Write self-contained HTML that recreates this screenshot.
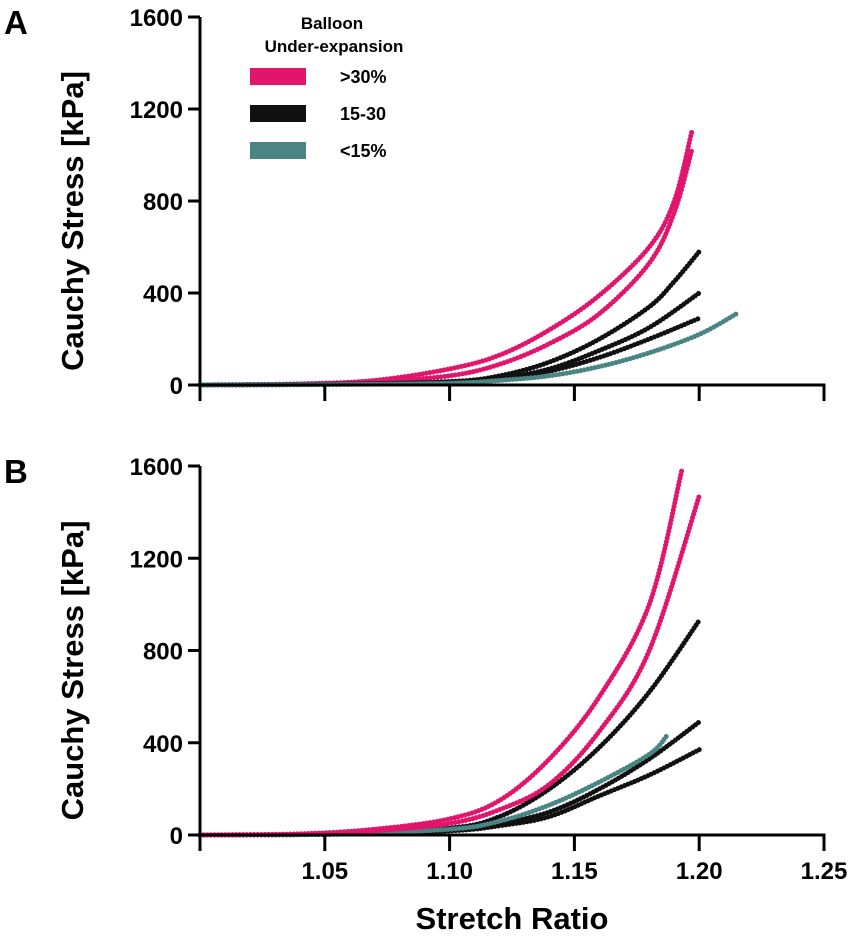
<!DOCTYPE html>
<html><head><meta charset="utf-8"><style>
body{margin:0;background:#fff}
svg{display:block;font-family:"Liberation Sans",sans-serif;font-weight:bold}
</style></head><body>
<svg id="chart" width="857" height="940" viewBox="0 0 857 940" xmlns="http://www.w3.org/2000/svg">
<g id="plot"></g>
</svg>
<script>
const xTicks=[1.00,1.05,1.10,1.15,1.20,1.25];
const xTickLabels=["","1.05","1.10","1.15","1.20","1.25"];
const yTicks=[0,400,800,1200,1600];
const legendLabels=[">30%","15-30","<15%"];
const groupColors={pink:"#e0156b",black:"#111111",teal:"#4a8584"};
// Panel A series
const aPink1X=[1.00,1.04,1.07,1.10,1.12,1.14,1.16,1.18,1.19,1.197];
const aPink1Y=[0,5,20,70,130,240,390,600,800,1100];
const aPink2X=[1.00,1.04,1.07,1.10,1.12,1.14,1.16,1.18,1.19,1.197];
const aPink2Y=[0,4,15,40,90,180,310,530,750,1020];
const aBlack1X=[1.00,1.05,1.10,1.12,1.14,1.16,1.18,1.19,1.20];
const aBlack1Y=[0,3,15,40,100,200,340,450,580];
const aBlack2X=[1.00,1.05,1.10,1.12,1.14,1.16,1.18,1.20];
const aBlack2Y=[0,3,12,30,70,150,250,400];
const aBlack3X=[1.00,1.05,1.10,1.12,1.14,1.16,1.18,1.20];
const aBlack3Y=[0,3,10,25,60,120,200,290];
const aTealX=[1.00,1.05,1.10,1.12,1.14,1.16,1.18,1.20,1.215];
const aTealY=[0,2,8,20,40,80,140,220,310];
// Panel B series
const bPink1X=[1.00,1.04,1.07,1.10,1.12,1.14,1.16,1.18,1.193];
const bPink1Y=[0,5,25,70,150,330,600,1000,1580];
const bPink2X=[1.00,1.04,1.07,1.10,1.12,1.14,1.16,1.18,1.20];
const bPink2Y=[0,4,18,50,110,220,450,800,1470];
const bBlack1X=[1.00,1.05,1.10,1.12,1.14,1.16,1.18,1.20];
const bBlack1Y=[0,4,30,80,200,380,620,930];
const bBlack2X=[1.00,1.05,1.10,1.12,1.14,1.16,1.18,1.20];
const bBlack2Y=[0,3,20,50,100,200,330,490];
const bBlack3X=[1.00,1.05,1.10,1.12,1.14,1.16,1.18,1.20];
const bBlack3Y=[0,3,18,40,80,170,260,370];
const bTealX=[1.00,1.05,1.10,1.12,1.14,1.16,1.18,1.187];
const bTealY=[0,3,25,60,130,230,350,430];

const NS="http://www.w3.org/2000/svg";
const plot=document.getElementById('plot');
function mk(tag,attrs,parent){const e=document.createElementNS(NS,tag);for(const k in attrs)e.setAttribute(k,attrs[k]);(parent||plot).appendChild(e);return e;}

function panel(name,top,bottom,series,showXLabels){
  const x0=200,x1=824;
  const xs=v=>x0+(v-1.0)/0.25*(x1-x0);
  const ys=v=>bottom-(v/1600)*(bottom-top);
  const g=mk('g',{});
  
  
  series.forEach(s=>{
    const pts=s.x.map((v,i)=>[xs(v),ys(s.y[i])]);
    let d="M"+pts[0][0]+","+pts[0][1];
    for(let i=0;i<pts.length-1;i++){
      const p0=pts[Math.max(0,i-1)],p1=pts[i],p2=pts[i+1],p3=pts[Math.min(pts.length-1,i+2)];
      const c1=[p1[0]+(p2[0]-p0[0])/6,p1[1]+(p2[1]-p0[1])/6];
      const c2=[p2[0]-(p3[0]-p1[0])/6,p2[1]-(p3[1]-p1[1])/6];
      d+=" C"+c1[0]+","+c1[1]+" "+c2[0]+","+c2[1]+" "+p2[0]+","+p2[1];
    }
    const p=mk('path',{d:d,fill:'none',stroke:groupColors[s.c],'stroke-width':5,'stroke-linecap':'round','stroke-dasharray':'0.1 3.5'},g);
    
    
  });
  const ax=mk('g',{stroke:'#000','stroke-width':3},g);
  
  
  mk('line',{x1:x0,y1:top,x2:x0,y2:bottom},ax);
  mk('line',{x1:x0,y1:bottom,x2:x1+1.5,y2:bottom},ax);
  xTicks.forEach((t,i)=>{
    mk('line',{x1:xs(t),y1:bottom,x2:xs(t),y2:bottom+16},ax);
    if(showXLabels&&xTickLabels[i]){
      const tx=mk('text',{x:xs(t),y:bottom+44,'font-size':24,'text-anchor':'middle',fill:'#000',stroke:'none'},g);
      tx.textContent=xTickLabels[i];
      
      
    }
  });
  yTicks.forEach(t=>{
    mk('line',{x1:x0-12,y1:ys(t),x2:x0,y2:ys(t)},ax);
    const tx=mk('text',{x:x0-17,y:ys(t)+9,'font-size':24,'text-anchor':'end',fill:'#000',stroke:'none'},g);
    tx.textContent=t;
    
    
  });
  const yt=mk('text',{x:0,y:0,'font-size':31,'text-anchor':'middle',transform:`translate(83,${(top+bottom)/2+20}) rotate(-90)`},g);
  yt.textContent="Cauchy Stress [kPa]";
  
  
  const pl=mk('text',{x:4,y:top+17,'font-size':33},g);
  pl.textContent=name;
  
  
}
panel('A',17,385,[
 {n:'pink-1',c:'pink',x:aPink1X,y:aPink1Y},{n:'pink-2',c:'pink',x:aPink2X,y:aPink2Y},
 {n:'black-1',c:'black',x:aBlack1X,y:aBlack1Y},{n:'black-2',c:'black',x:aBlack2X,y:aBlack2Y},
 {n:'black-3',c:'black',x:aBlack3X,y:aBlack3Y},{n:'teal-1',c:'teal',x:aTealX,y:aTealY}],false);
panel('B',466,835,[
 {n:'black-1',c:'black',x:bBlack1X,y:bBlack1Y},{n:'black-2',c:'black',x:bBlack2X,y:bBlack2Y},
 {n:'black-3',c:'black',x:bBlack3X,y:bBlack3Y},{n:'teal-1',c:'teal',x:bTealX,y:bTealY},
 {n:'pink-1',c:'pink',x:bPink1X,y:bPink1Y},{n:'pink-2',c:'pink',x:bPink2X,y:bPink2Y}],true);
const xt=mk('text',{x:512,y:929,'font-size':31,'text-anchor':'middle'});
xt.textContent="Stretch Ratio";


const lg=mk('g',{});


const t1=mk('text',{x:332,y:29,'font-size':17,'text-anchor':'middle'},lg);t1.textContent="Balloon";
const t2=mk('text',{x:334,y:52,'font-size':17,'text-anchor':'middle'},lg);t2.textContent="Under-expansion";
const cols=[groupColors.pink,groupColors.black,groupColors.teal];
legendLabels.forEach((l,i)=>{
  const y=68+i*37;
  const r=mk('rect',{x:250,y:y,width:56,height:17,fill:cols[i]},lg);
  
  
  const t=mk('text',{x:340,y:y+15,'font-size':18},lg);
  t.textContent=l;
  
  
});
</script>
</body></html>
